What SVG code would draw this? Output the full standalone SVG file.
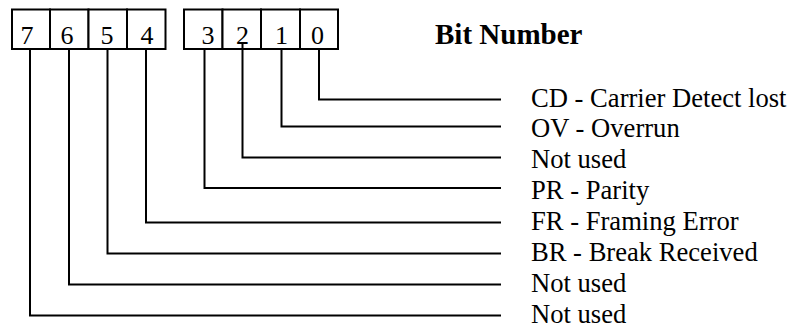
<svg xmlns="http://www.w3.org/2000/svg" width="790" height="328" viewBox="0 0 790 328">
  <style>
    .box { fill: #fff; stroke: #000; stroke-width: 2; }
    .digit { font-family: "Liberation Serif", "Times New Roman", serif; font-size: 26px; text-anchor: middle; fill: #000; }
    .label { font-family: "Liberation Serif", "Times New Roman", serif; font-size: 26.6px; fill: #000; }
    .title { font-family: "Liberation Serif", "Times New Roman", serif; font-size: 29px; font-weight: bold; fill: #000; }
    .wire { fill: none; stroke: #000; stroke-width: 2; }
  </style>
  <rect width="790" height="328" fill="#fff"/>

  <!-- upper nibble, bits 7..4 -->
  <g id="bit7"><rect class="box" x="12" y="9.5" width="38" height="39.5"/><text class="digit" x="27" y="44">7</text></g>
  <g id="bit6"><rect class="box" x="50" y="9.5" width="38.5" height="39.5"/><text class="digit" x="67" y="44">6</text></g>
  <g id="bit5"><rect class="box" x="88.5" y="9.5" width="38.5" height="39.5"/><text class="digit" x="107" y="44">5</text></g>
  <g id="bit4"><rect class="box" x="127" y="9.5" width="38.5" height="39.5"/><text class="digit" x="147" y="44">4</text></g>

  <!-- lower nibble, bits 3..0 -->
  <g id="bit3"><rect class="box" x="184" y="9.5" width="38.5" height="39.5"/><text class="digit" x="208" y="44">3</text></g>
  <g id="bit2"><rect class="box" x="222.5" y="9.5" width="38.5" height="39.5"/><text class="digit" x="242.5" y="44">2</text></g>
  <g id="bit1"><rect class="box" x="261" y="9.5" width="39" height="39.5"/><text class="digit" x="281.5" y="44">1</text></g>
  <g id="bit0"><rect class="box" x="300" y="9.5" width="38" height="39.5"/><text class="digit" x="317.5" y="44">0</text></g>

  <g id="title"><text class="title" x="435" y="44">Bit Number</text></g>

  <!-- leader lines from each bit to its description -->
  <g id="connectors">
    <polyline class="wire" points="319,49 319,99.5 501,99.5"/>
    <polyline class="wire" points="281.5,49 281.5,126.5 501,126.5"/>
    <polyline class="wire" points="242.5,43 242.5,157.5 501,157.5"/>
    <polyline class="wire" points="204.5,49 204.5,188 501,188"/>
    <polyline class="wire" points="146,49 146,222.5 501,222.5"/>
    <polyline class="wire" points="107.5,49 107.5,253.5 501,253.5"/>
    <polyline class="wire" points="69,49 69,284.5 501,284.5"/>
    <polyline class="wire" points="30,49 30,315.5 501,315.5"/>
  </g>

  <g id="labels">
    <text class="label" x="531" y="107">CD - Carrier Detect lost</text>
    <text class="label" x="531" y="137">OV - Overrun</text>
    <text class="label" x="531" y="168">Not used</text>
    <text class="label" x="531" y="199">PR - Parity</text>
    <text class="label" x="531" y="230">FR - Framing Error</text>
    <text class="label" x="531" y="261">BR - Break Received</text>
    <text class="label" x="531" y="292">Not used</text>
    <text class="label" x="531" y="323">Not used</text>
  </g>
</svg>
